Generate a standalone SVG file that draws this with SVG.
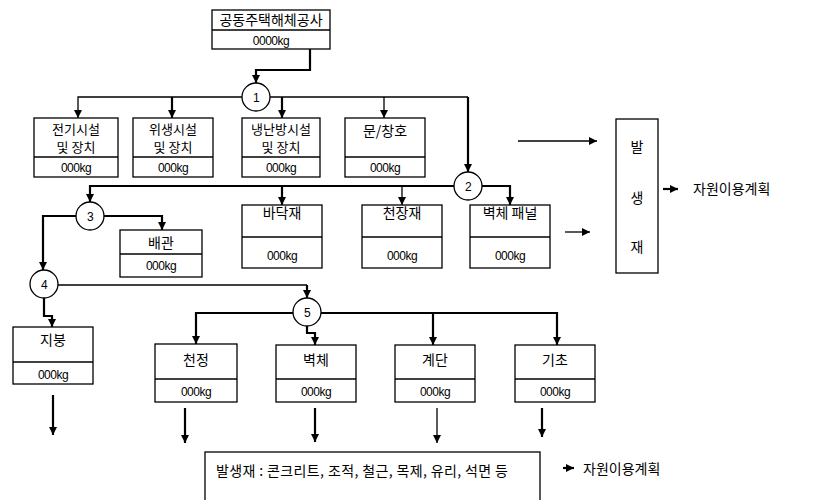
<svg xmlns="http://www.w3.org/2000/svg" width="820" height="500" viewBox="0 0 820 500">
<defs>
<marker id="ah" viewBox="0 0 10 10" refX="10" refY="5" markerWidth="8" markerHeight="8" markerUnits="userSpaceOnUse" orient="auto"><path d="M0,0 L10,5 L0,10 z" fill="#000"/></marker>
</defs>
<style>
.box{fill:#fff;stroke:#000;stroke-width:1.3}
.t{font-family:"Noto Sans CJK KR","Liberation Sans",sans-serif;font-size:14px;fill:#000;text-anchor:middle}
.t2{font-family:"Noto Sans CJK KR","Liberation Sans",sans-serif;font-size:13px;fill:#000;text-anchor:middle}
.k{font-family:"Liberation Sans","Noto Sans CJK KR",sans-serif;font-size:12px;fill:#000;text-anchor:middle;letter-spacing:-0.5px}
.c{fill:#fff;stroke:#000;stroke-width:1.3}
.ln{fill:none;stroke:#000;stroke-width:1.3}
.th{fill:none;stroke:#000;stroke-width:2.2}
.a{marker-end:url(#ah)}
</style>
<rect width="820" height="500" fill="#fff"/>

<g id="connectors">
<path class="th a" d="M310,49 V70 H256 V83"/>
<path class="ln a" d="M242,97 H78 V118"/>
<path class="th a" d="M172,97 V118"/>
<path class="ln" d="M270,97 H468"/>
<path class="th a" d="M468,97 V172"/>
<path class="th a" d="M282,97 V118"/>
<path class="ln a" d="M384,97 V118"/>
<path class="th a" d="M454,186 H90 V202"/>
<path class="th a" d="M282,186 V205"/>
<path class="ln a" d="M402,186 V205"/>
<path class="th a" d="M482,186 H510 V205"/>
<path class="th a" d="M104,216 H162 V230"/>
<path class="th a" d="M76,216 H43 V270"/>
<path class="ln" d="M58,285 H307"/>
<path class="th a" d="M307,285 V298"/>
<path class="th a" d="M44,298 V316 H52 V327"/>
<path class="th a" d="M293,313 H196 V344"/>
<path class="th a" d="M307,326 V333 H315 V345"/>
<path class="th a" d="M321,313 H557 V345"/>
<path class="th a" d="M433,313 V345"/>
<path class="th a" d="M53,395 V435"/>
<path class="th a" d="M185,408 V443"/>
<path class="th a" d="M315,408 V442"/>
<path class="ln a" d="M437,408 V443"/>
<path class="th a" d="M542,408 V437"/>
<path class="ln a" d="M518,141 H597"/>
<path class="ln a" d="M565,232 H590"/>
<path class="th a" d="M663,189 H678"/>
<path class="th a" d="M563,468 H574"/>
</g>

<g id="n-top"><rect class="box" x="212" y="10" width="118" height="39"/><line class="ln" x1="212" y1="30" x2="330" y2="30"/><text class="t" x="271" y="25" font-size="12.5">공동주택해체공사</text><text class="k" x="271" y="45">0000kg</text></g>

<g id="c1"><circle class="c" cx="256" cy="97" r="14"/><text class="k" x="256" y="102" font-size="13">1</text></g>
<g id="c2"><circle class="c" cx="468" cy="186" r="14"/><text class="k" x="468" y="191" font-size="13">2</text></g>
<g id="c3"><circle class="c" cx="90" cy="216" r="14"/><text class="k" x="90" y="221" font-size="13">3</text></g>
<g id="c4"><circle class="c" cx="44" cy="284" r="14"/><text class="k" x="44" y="289" font-size="13">4</text></g>
<g id="c5"><circle class="c" cx="307" cy="312" r="14"/><text class="k" x="307" y="317" font-size="13">5</text></g>

<g id="n-elec"><rect class="box" x="34" y="118" width="84" height="59"/><line class="ln" x1="34" y1="157" x2="118" y2="157"/><text class="t2" x="76" y="134">전기시설</text><text class="t2" x="76" y="152">및 장치</text><text class="k" x="76" y="172">000kg</text></g>
<g id="n-sani"><rect class="box" x="133" y="118" width="80" height="59"/><line class="ln" x1="133" y1="157" x2="213" y2="157"/><text class="t2" x="173" y="134">위생시설</text><text class="t2" x="173" y="152">및 장치</text><text class="k" x="173" y="172">000kg</text></g>
<g id="n-hvac"><rect class="box" x="242" y="118" width="78" height="59"/><line class="ln" x1="242" y1="157" x2="320" y2="157"/><text class="t2" x="281" y="134">냉난방시설</text><text class="t2" x="281" y="152">및 장치</text><text class="k" x="281" y="172">000kg</text></g>
<g id="n-door"><rect class="box" x="345" y="118" width="80" height="59"/><line class="ln" x1="345" y1="157" x2="425" y2="157"/><text class="t" x="385" y="136">문/창호</text><text class="k" x="385" y="172">000kg</text></g>

<g id="n-floor"><rect class="box" x="242" y="205" width="80" height="63"/><line class="ln" x1="242" y1="237" x2="322" y2="237"/><text class="t" x="282" y="218">바닥재</text><text class="k" x="282" y="260">000kg</text></g>
<g id="n-ceilmat"><rect class="box" x="362" y="205" width="80" height="63"/><line class="ln" x1="362" y1="237" x2="442" y2="237"/><text class="t" x="402" y="218">천장재</text><text class="k" x="402" y="260">000kg</text></g>
<g id="n-panel"><rect class="box" x="470" y="205" width="80" height="63"/><line class="ln" x1="470" y1="237" x2="550" y2="237"/><text class="t" x="510" y="218">벽체 패널</text><text class="k" x="510" y="260">000kg</text></g>

<g id="n-pipe"><rect class="box" x="120" y="230" width="82" height="47"/><line class="ln" x1="120" y1="254" x2="202" y2="254"/><text class="t" x="161" y="248">배관</text><text class="k" x="161" y="270">000kg</text></g>

<g id="n-roof"><rect class="box" x="13" y="327" width="80" height="57"/><line class="ln" x1="13" y1="362" x2="93" y2="362"/><text class="t" x="53" y="345">지붕</text><text class="k" x="53" y="379">000kg</text></g>
<g id="n-ceil"><rect class="box" x="155" y="344" width="82" height="58"/><line class="ln" x1="155" y1="379" x2="237" y2="379"/><text class="t" x="196" y="365">천정</text><text class="k" x="196" y="396">000kg</text></g>
<g id="n-wall"><rect class="box" x="276" y="345" width="80" height="57"/><line class="ln" x1="276" y1="379" x2="356" y2="379"/><text class="t" x="316" y="365">벽체</text><text class="k" x="316" y="396">000kg</text></g>
<g id="n-stair"><rect class="box" x="395" y="345" width="80" height="57"/><line class="ln" x1="395" y1="379" x2="475" y2="379"/><text class="t" x="435" y="365">계단</text><text class="k" x="435" y="396">000kg</text></g>
<g id="n-found"><rect class="box" x="515" y="345" width="80" height="57"/><line class="ln" x1="515" y1="379" x2="595" y2="379"/><text class="t" x="555" y="365">기초</text><text class="k" x="555" y="396">000kg</text></g>

<g id="n-gen"><rect class="box" x="616" y="119" width="42" height="154"/><text class="t" x="637" y="152" font-size="15">발</text><text class="t" x="637" y="203" font-size="15">생</text><text class="t" x="637" y="252" font-size="15">재</text></g>
<g id="n-plan1"><text class="t" x="693" y="194" style="text-anchor:start" font-size="15">자원이용계획</text></g>

<g id="n-bottom"><rect class="box" x="205" y="452" width="335" height="50"/><text class="t" x="216" y="476" style="text-anchor:start" textLength="292">발생재 : 콘크리트, 조적, 철근, 목제, 유리, 석면 등</text></g>
<g id="n-plan2"><text class="t" x="583" y="474" style="text-anchor:start" font-size="15">자원이용계획</text></g>
</svg>
